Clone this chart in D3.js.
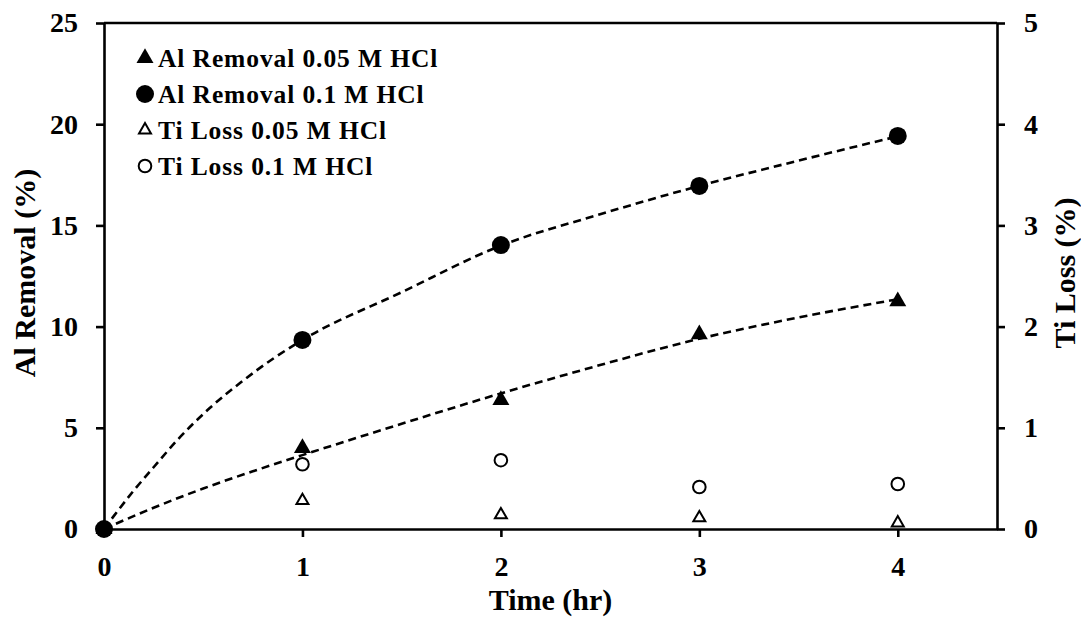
<!DOCTYPE html>
<html>
<head>
<meta charset="utf-8">
<script src="https://cdn.jsdelivr.net/npm/d3@7"></script>
<style>
  body { margin: 0; background: #fff; }
  text { font-family: "Liberation Serif", "Times New Roman", serif; font-weight: bold; fill: #000; }
</style>
</head>
<body>
<svg id="chart" width="1081" height="622"></svg>
<script>
// Sampling times (hr) and measured values
const times = [0, 1, 2, 3, 4];
const alRemoval005 = [0, 4.0, 6.37, 9.62, 11.25];   // % , left axis
const alRemoval01  = [0, 9.34, 14.03, 16.95, 19.42]; // % , left axis
const tiLoss005    = [0, 0.28, 0.14, 0.11, 0.06];    // % , right axis
const tiLoss01     = [0, 0.64, 0.68, 0.415, 0.445];  // % , right axis

// Fitted kinetic curves for Al removal (dashed)
const trendTimes005 = [0, 0.25, 0.5, 0.75, 1, 1.5, 2, 2.5, 3, 3.5, 4];
const trendAl005    = [0, 1.05, 2.0, 2.85, 3.65, 5.2, 6.7, 8.1, 9.4, 10.45, 11.35];
const trendTimes01  = [0, 0.05, 0.15, 0.25, 0.37, 0.53, 0.69, 0.85, 1, 1.5, 2, 2.5, 3, 3.5, 4];
const trendAl01     = [0, 0.65, 1.9, 3.05, 4.4, 5.95, 7.25, 8.4, 9.34, 11.7, 14.0, 15.55, 16.95, 18.2, 19.4];

// Axis ticks and labels
const xTicks = [0, 1, 2, 3, 4];
const leftTicks = [0, 5, 10, 15, 20, 25];
const rightTicks = [0, 1, 2, 3, 4, 5];
const legendLabels = ["Al Removal 0.05 M HCl", "Al Removal 0.1 M HCl", "Ti Loss 0.05 M HCl", "Ti Loss 0.1 M HCl"];
const xTitle = "Time (hr)";
const leftTitle = "Al Removal (%)";
const rightTitle = "Ti Loss (%)";

const svg = d3.select("#chart");
const plot = { left: 104, right: 997, top: 23, bottom: 529 };

const x = d3.scaleLinear().domain([0, 4.5]).range([plot.left, plot.right]);
const yL = d3.scaleLinear().domain([0, 25]).range([plot.bottom, plot.top]);
const yR = d3.scaleLinear().domain([0, 5]).range([plot.bottom, plot.top]);

const axisStroke = 2.6;
const tickFont = 28;

function styleAxis(g) {
  g.select(".domain").attr("stroke", "#000").attr("stroke-width", axisStroke);
  g.selectAll(".tick line").attr("stroke", "#000").attr("stroke-width", axisStroke);
  g.selectAll(".tick text").attr("font-size", tickFont).attr("fill", "#000")
    .style("font-family", '"Liberation Serif", "Times New Roman", serif').style("font-weight", "bold");
}

// Top frame line
svg.append("line")
  .attr("x1", plot.left).attr("x2", plot.right)
  .attr("y1", plot.top).attr("y2", plot.top)
  .attr("stroke", "#000").attr("stroke-width", axisStroke);

svg.append("g")
  .attr("transform", `translate(${plot.left},0)`)
  .call(d3.axisLeft(yL).tickValues(leftTicks).tickSize(8).tickSizeOuter(0).tickPadding(18).tickFormat(d3.format("d")))
  .call(styleAxis);

svg.append("g")
  .attr("transform", `translate(${plot.right},0)`)
  .call(d3.axisRight(yR).tickValues(rightTicks).tickSize(8).tickSizeOuter(0).tickPadding(19).tickFormat(d3.format("d")))
  .call(styleAxis);

svg.append("g")
  .attr("transform", `translate(0,${plot.bottom})`)
  .call(d3.axisBottom(x).tickValues(xTicks).tickSize(8).tickSizeOuter(0).tickPadding(19).tickFormat(d3.format("d")))
  .call(styleAxis);

// Axis titles
svg.append("text")
  .attr("transform", `translate(35,273) rotate(-90)`)
  .attr("text-anchor", "middle").attr("font-size", 30)
  .text(leftTitle);
svg.append("text")
  .attr("transform", `translate(1075,273) rotate(-90)`)
  .attr("text-anchor", "middle").attr("font-size", 30)
  .text(rightTitle);
svg.append("text")
  .attr("x", (plot.left + plot.right) / 2).attr("y", 610)
  .attr("text-anchor", "middle").attr("font-size", 30)
  .text(xTitle);

// Dashed fit curves
const fitLine = d3.line().curve(d3.curveMonotoneX);
function drawFit(ts, vs) {
  svg.append("path")
    .attr("d", fitLine(ts.map((t, i) => [x(t), yL(vs[i])])))
    .attr("fill", "none").attr("stroke", "#000")
    .attr("stroke-width", 2.6).attr("stroke-dasharray", "8,5");
}
drawFit(trendTimes01, trendAl01);
drawFit(trendTimes005, trendAl005);

// Marker styles
const markers = [
  { type: d3.symbolTriangle, size: 125, fill: "#000", stroke: "none", sw: 0 },
  { type: d3.symbolCircle, size: 254, fill: "#000", stroke: "none", sw: 0 },
  { type: d3.symbolTriangle, size: 62, fill: "#fff", stroke: "#000", sw: 2 },
  { type: d3.symbolCircle, size: 125, fill: "#fff", stroke: "#000", sw: 2 }
];
const seriesList = [
  { values: alRemoval005, scale: yL, m: markers[0] },
  { values: alRemoval01, scale: yL, m: markers[1] },
  { values: tiLoss005, scale: yR, m: markers[2] },
  { values: tiLoss01, scale: yR, m: markers[3] }
];

// Ti loss markers underneath, Al removal markers on top
[2, 3, 0, 1].forEach(k => {
  const s = seriesList[k];
  const sym = d3.symbol().type(s.m.type).size(s.m.size);
  svg.append("g").selectAll("path")
    .data(times.map((t, i) => [t, s.values[i]]))
    .join("path")
    .attr("transform", d => `translate(${x(d[0])},${s.scale(d[1])})`)
    .attr("d", sym())
    .attr("fill", s.m.fill).attr("stroke", s.m.stroke).attr("stroke-width", s.m.sw);
});

// Legend
const legend = svg.append("g").attr("transform", "translate(145,58)");
legendLabels.forEach((label, i) => {
  const m = markers[i];
  const row = legend.append("g").attr("transform", `translate(0,${i * 36})`);
  row.append("path")
    .attr("d", d3.symbol().type(m.type).size(m.size)())
    .attr("fill", m.fill).attr("stroke", m.stroke).attr("stroke-width", m.sw);
  row.append("text")
    .attr("x", 13).attr("y", 8.5)
    .attr("font-size", 25.5).attr("letter-spacing", 0.9)
    .text(label);
});
</script>
</body>
</html>
